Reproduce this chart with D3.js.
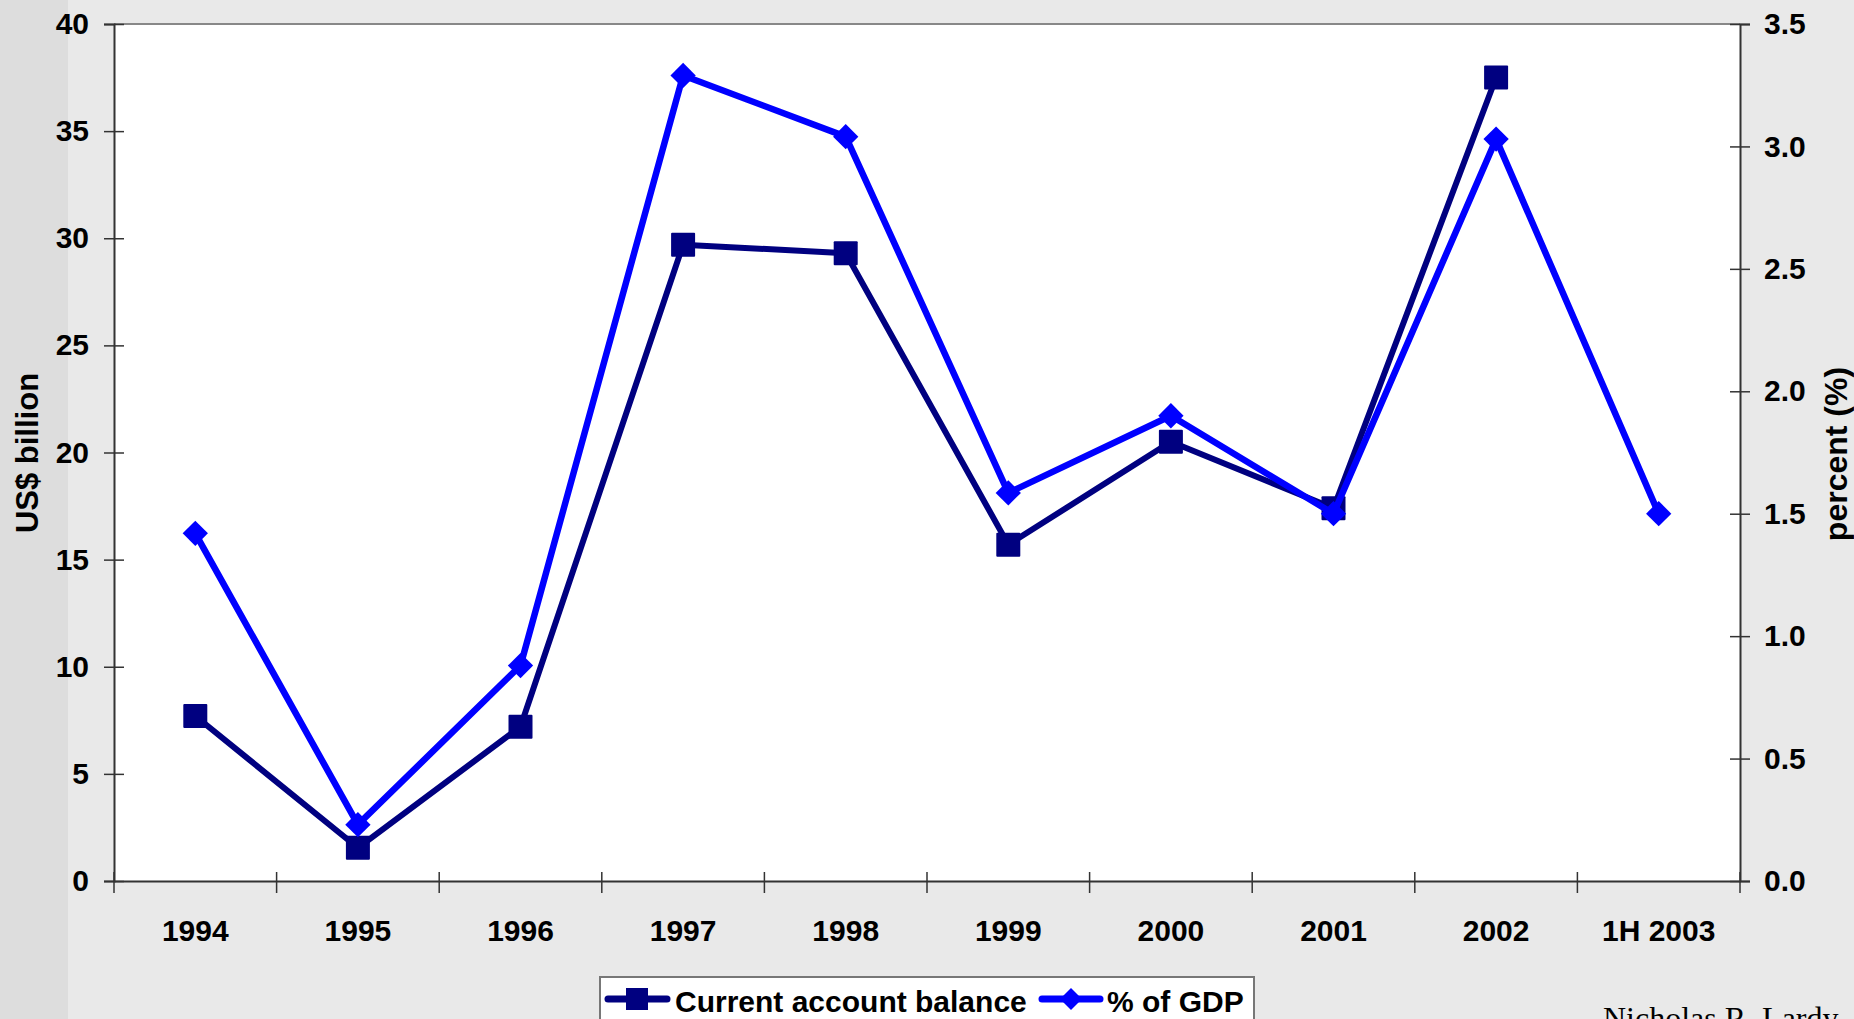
<!DOCTYPE html>
<html>
<head>
<meta charset="utf-8">
<script src="https://cdn.jsdelivr.net/npm/d3@7"></script>
<style>
  html, body { margin: 0; padding: 0; background: #e9e9e9; }
  svg { display: block; }
</style>
</head>
<body>
<svg id="chart" width="1854" height="1019"></svg>
<script>
// ---- data ----
const categories = ["1994", "1995", "1996", "1997", "1998", "1999", "2000", "2001", "2002", "1H 2003"];
const currentAccount = [7.7, 1.55, 7.2, 29.7, 29.3, 15.7, 20.5, 17.4, 37.5, null]; // US$ billion
const pctGDP = [1.42, 0.23, 0.88, 3.29, 3.04, 1.585, 1.9, 1.5, 3.03, 1.5];        // percent
const leftTicks = [0, 5, 10, 15, 20, 25, 30, 35, 40];
const rightTicks = [0, 0.5, 1.0, 1.5, 2.0, 2.5, 3.0, 3.5];

const SANS = "'Liberation Sans', Arial, Helvetica, sans-serif";
const svg = d3.select("#chart");
const W = 1854, H = 1019;
const L = 114, R = 1740, T = 24, B = 881;

// background
svg.append("rect").attr("x", 0).attr("y", 0).attr("width", W).attr("height", H).attr("fill", "#e9e9e9");
svg.append("rect").attr("x", 0).attr("y", 0).attr("width", 68).attr("height", H).attr("fill", "#dddddd");

// scales
const x = d3.scaleBand().domain(categories).range([L, R]).padding(0);
const yL = d3.scaleLinear().domain([0, 40]).range([B, T]);
const yR = d3.scaleLinear().domain([0, 3.5]).range([B, T]);
const cx = d => x(d) + x.bandwidth() / 2;

// plot area
svg.append("rect").attr("x", L).attr("y", T).attr("width", R - L).attr("height", B - T).attr("fill", "#ffffff");
svg.append("line").attr("x1", L).attr("x2", R).attr("y1", T).attr("y2", T).attr("stroke", "#888").attr("stroke-width", 2);

function styleText(sel, size) {
  sel.style("font-family", SANS).style("font-weight", "bold").style("font-size", size + "px").attr("fill", "#000");
}

// left axis
const gL = svg.append("g").attr("transform", `translate(${L},0)`)
  .call(d3.axisLeft(yL).tickValues(leftTicks).tickFormat(d3.format("d")).tickSize(10).tickPadding(15));
gL.select(".domain").attr("stroke", "#333").attr("stroke-width", 2);
gL.selectAll(".tick line").attr("x1", 10).attr("x2", -10).attr("stroke", "#333").attr("stroke-width", 1.5);
styleText(gL.selectAll(".tick text"), 30);

// right axis
const gR = svg.append("g").attr("transform", `translate(${R},0)`)
  .call(d3.axisRight(yR).tickValues(rightTicks).tickFormat(d3.format(".1f")).tickSize(10).tickPadding(14));
gR.select(".domain").attr("stroke", "#333").attr("stroke-width", 2);
gR.selectAll(".tick line").attr("x1", -10).attr("x2", 10).attr("stroke", "#333").attr("stroke-width", 1.5);
styleText(gR.selectAll(".tick text"), 30);

// bottom axis
const gB = svg.append("g").attr("transform", `translate(0,${B})`)
  .call(d3.axisBottom(x).tickSize(0));
gB.select(".domain").attr("stroke", "#333").attr("stroke-width", 2);
gB.selectAll(".tick text").attr("y", 60).attr("dy", 0);
styleText(gB.selectAll(".tick text"), 30);
const bounds = categories.map(c => x(c)).concat([x.range()[1]]);
svg.append("g").selectAll("line").data(bounds).join("line")
  .attr("x1", d => d).attr("x2", d => d).attr("y1", B - 9).attr("y2", B + 12)
  .attr("stroke", "#333").attr("stroke-width", 1.5);

// axis titles
styleText(svg.append("text").attr("transform", `translate(27,453) rotate(-90)`)
  .attr("text-anchor", "middle").attr("dominant-baseline", "central").text("US$ billion"), 31);
styleText(svg.append("text").attr("transform", `translate(1836,454) rotate(-90)`)
  .attr("text-anchor", "middle").attr("dominant-baseline", "central").text("percent (%)"), 32);

// series
const navy = "#000080", blue = "#0000ff";
const caData = categories.map((c, i) => ({ c, v: currentAccount[i] })).filter(d => d.v !== null);
const gdpData = categories.map((c, i) => ({ c, v: pctGDP[i] })).filter(d => d.v !== null);

const lineL = d3.line().x(d => cx(d.c)).y(d => yL(d.v));
const lineR = d3.line().x(d => cx(d.c)).y(d => yR(d.v));

svg.append("path").datum(caData).attr("d", lineL).attr("fill", "none")
  .attr("stroke", navy).attr("stroke-width", 6).attr("stroke-linejoin", "round");
svg.append("g").selectAll("rect").data(caData).join("rect")
  .attr("x", d => cx(d.c) - 12).attr("y", d => yL(d.v) - 12)
  .attr("width", 24).attr("height", 24).attr("rx", 1).attr("fill", navy);

svg.append("path").datum(gdpData).attr("d", lineR).attr("fill", "none")
  .attr("stroke", blue).attr("stroke-width", 6.5).attr("stroke-linejoin", "round");
const diamond = d3.symbol().type(d3.symbolSquare).size(320);
svg.append("g").selectAll("path").data(gdpData).join("path")
  .attr("d", diamond)
  .attr("transform", d => `translate(${cx(d.c)},${yR(d.v)}) rotate(45)`)
  .attr("fill", blue);

// legend
const lg = svg.append("g");
lg.append("rect").attr("x", 600).attr("y", 977).attr("width", 654).attr("height", 70)
  .attr("fill", "#fff").attr("stroke", "#777").attr("stroke-width", 2);
lg.append("line").attr("x1", 608).attr("x2", 667).attr("y1", 999).attr("y2", 999)
  .attr("stroke", navy).attr("stroke-width", 7).attr("stroke-linecap", "round");
lg.append("rect").attr("x", 637 - 11).attr("y", 999 - 11).attr("width", 22).attr("height", 22).attr("fill", navy);
styleText(lg.append("text").attr("x", 675).attr("y", 1012).text("Current account balance"), 30);
lg.append("line").attr("x1", 1042).attr("x2", 1100).attr("y1", 999).attr("y2", 999)
  .attr("stroke", blue).attr("stroke-width", 7).attr("stroke-linecap", "round");
lg.append("path").attr("d", d3.symbol().type(d3.symbolSquare).size(240))
  .attr("transform", "translate(1071,999) rotate(45)").attr("fill", blue);
styleText(lg.append("text").attr("x", 1107).attr("y", 1012).text("% of GDP"), 30);

// credit
svg.append("text").attr("x", 1603).attr("y", 1029)
  .style("font-family", "'Liberation Serif', 'Times New Roman', serif").style("font-weight", "normal")
  .style("font-size", "32px").attr("fill", "#000").text("Nicholas R. Lardy");
</script>
</body>
</html>
